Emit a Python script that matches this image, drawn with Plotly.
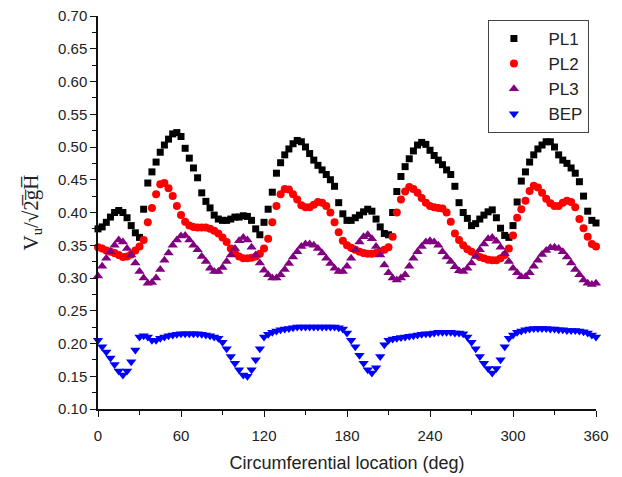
import plotly.graph_objects as go

deg = list(range(0, 361, 3))

pl1 = [0.375, 0.378, 0.385, 0.393, 0.400, 0.403, 0.400, 0.392, 0.380, 0.369,
       0.362, 0.405, 0.445, 0.462, 0.477, 0.492, 0.503, 0.512, 0.520, 0.522,
       0.516, 0.498, 0.483, 0.468, 0.453, 0.430, 0.417, 0.407, 0.396, 0.390,
       0.388, 0.388, 0.390, 0.393, 0.393, 0.395, 0.394, 0.388, 0.375, 0.366,
       0.385, 0.405, 0.431, 0.460, 0.476, 0.488, 0.497, 0.505, 0.510, 0.508,
       0.500, 0.490, 0.480, 0.472, 0.465, 0.458, 0.450, 0.440, 0.415, 0.398,
       0.388, 0.388, 0.392, 0.396, 0.401, 0.405, 0.402, 0.390, 0.378, 0.368,
       0.366, 0.400, 0.432, 0.455, 0.470, 0.482, 0.494, 0.503, 0.507, 0.504,
       0.495, 0.487, 0.480, 0.473, 0.465, 0.458, 0.440, 0.415, 0.400, 0.391,
       0.380, 0.383, 0.390, 0.396, 0.401, 0.404, 0.392, 0.376, 0.365, 0.362,
       0.380, 0.416, 0.448, 0.462, 0.477, 0.488, 0.497, 0.503, 0.508, 0.508,
       0.500, 0.488, 0.480, 0.475, 0.468, 0.460, 0.447, 0.425, 0.402, 0.388,
       0.384]

pl2 = [0.347, 0.345, 0.342, 0.340, 0.338, 0.335, 0.332, 0.333, 0.336, 0.342,
       0.348, 0.358, 0.385, 0.407, 0.428, 0.443, 0.445, 0.437, 0.425, 0.410,
       0.396, 0.386, 0.380, 0.378, 0.377, 0.377, 0.377, 0.375, 0.372, 0.368,
       0.362, 0.355, 0.345, 0.338, 0.333, 0.330, 0.330, 0.331, 0.333, 0.337,
       0.345, 0.360, 0.385, 0.410, 0.428, 0.436, 0.435, 0.428, 0.420, 0.411,
       0.408, 0.408, 0.412, 0.416, 0.415, 0.410, 0.400, 0.385, 0.370, 0.357,
       0.350, 0.346, 0.343, 0.340, 0.338, 0.337, 0.337, 0.338, 0.340, 0.343,
       0.347, 0.363, 0.400, 0.420, 0.432, 0.439, 0.436, 0.430, 0.422, 0.415,
       0.410, 0.408, 0.407, 0.406, 0.400, 0.386, 0.368, 0.358, 0.350, 0.344,
       0.340, 0.336, 0.332, 0.330, 0.328, 0.327, 0.327, 0.330, 0.335, 0.345,
       0.365, 0.392, 0.405, 0.418, 0.433, 0.441, 0.438, 0.430, 0.421, 0.414,
       0.410, 0.410, 0.415, 0.418, 0.416, 0.408, 0.390, 0.376, 0.363, 0.352,
       0.348]

pl3 = [0.303, 0.318, 0.330, 0.340, 0.350, 0.358, 0.355, 0.345, 0.335, 0.323,
       0.310, 0.300, 0.292, 0.293, 0.300, 0.313, 0.327, 0.338, 0.350, 0.358,
       0.364, 0.365, 0.358, 0.350, 0.343, 0.333, 0.325, 0.315, 0.310, 0.310,
       0.316, 0.325, 0.335, 0.345, 0.357, 0.362, 0.358, 0.347, 0.335, 0.323,
       0.312, 0.305, 0.300, 0.300, 0.305, 0.313, 0.322, 0.332, 0.340, 0.348,
       0.352, 0.352, 0.350, 0.345, 0.338, 0.330, 0.322, 0.315, 0.310, 0.310,
       0.318, 0.330, 0.343, 0.355, 0.363, 0.366, 0.360, 0.348, 0.335, 0.320,
       0.308, 0.300, 0.297, 0.300, 0.305, 0.318, 0.330, 0.340, 0.348, 0.355,
       0.357, 0.355, 0.350, 0.340, 0.332, 0.325, 0.317, 0.311, 0.310, 0.315,
       0.323, 0.333, 0.343, 0.352, 0.360, 0.362, 0.356, 0.347, 0.337, 0.325,
       0.315, 0.308, 0.302, 0.302, 0.308, 0.318, 0.327, 0.336, 0.342, 0.346,
       0.347, 0.345, 0.340, 0.332, 0.323, 0.313, 0.305, 0.297, 0.292, 0.290,
       0.292]

bep = [0.205, 0.195, 0.187, 0.178, 0.168, 0.158, 0.152, 0.158, 0.172, 0.190,
       0.210, 0.212, 0.210, 0.205, 0.205, 0.208, 0.210, 0.212, 0.213, 0.214,
       0.215, 0.215, 0.215, 0.215, 0.215, 0.214, 0.213, 0.212, 0.210, 0.208,
       0.202, 0.192, 0.180, 0.170, 0.160, 0.152, 0.150, 0.160, 0.175, 0.192,
       0.210, 0.214, 0.217, 0.219, 0.221, 0.222, 0.223, 0.224, 0.225, 0.225,
       0.225, 0.225, 0.225, 0.225, 0.225, 0.225, 0.225, 0.225, 0.224, 0.222,
       0.216, 0.205, 0.195, 0.182, 0.170, 0.160, 0.155, 0.163, 0.180, 0.198,
       0.205, 0.207, 0.208, 0.209, 0.210, 0.211, 0.212, 0.213, 0.214, 0.215,
       0.215, 0.216, 0.217, 0.217, 0.217, 0.217, 0.216, 0.216, 0.215, 0.210,
       0.202, 0.192, 0.180, 0.170, 0.162, 0.155, 0.162, 0.175, 0.195, 0.208,
       0.213, 0.217, 0.219, 0.221, 0.222, 0.223, 0.223, 0.223, 0.223, 0.222,
       0.222, 0.221, 0.221, 0.220, 0.220, 0.220, 0.219, 0.218, 0.216, 0.213,
       0.210]

x_ticks = [0, 60, 120, 180, 240, 300, 360]
y_ticks = [0.10, 0.15, 0.20, 0.25, 0.30, 0.35, 0.40, 0.45, 0.50, 0.55, 0.60, 0.65, 0.70]

series = [
    ("PL1", pl1, "square", "#000000", 7),
    ("PL2", pl2, "circle", "#ff0000", 8),
    ("PL3", pl3, "triangle-up", "#800080", 9),
    ("BEP", bep, "triangle-down", "#0000ff", 9),
]

fig = go.Figure()
for name, vals, sym, col, sz in series:
    fig.add_trace(go.Scatter(
        x=deg, y=vals, mode="markers", name="  " + name,
        marker=dict(symbol=sym, color=col, size=sz, line=dict(width=0)),
        cliponaxis=False,
    ))

font_main = "Liberation Sans, Arial, sans-serif"

fig.update_layout(
    width=622, height=477,
    margin=dict(l=98, r=26, t=16, b=68),
    paper_bgcolor="white", plot_bgcolor="white",
    font=dict(family=font_main, color="#222222", size=14),
    legend=dict(
        x=0.783, y=0.99, xanchor="left", yanchor="top",
        bordercolor="#444444", borderwidth=1, bgcolor="white",
        font=dict(size=17, family=font_main, color="#222222"),
        itemsizing="trace", tracegroupgap=0, itemwidth=40,
    ),
    xaxis=dict(
        range=[0, 360], tickvals=x_ticks, ticktext=[str(v) for v in x_ticks],
        showgrid=False, zeroline=False, showline=True, linecolor="#111111", linewidth=1.5,
        ticks="outside", ticklen=6, tickwidth=1.3, tickcolor="#111111",
        minor=dict(ticks="outside", ticklen=4, tickwidth=1.2, tickcolor="#111111", dtick=30, tick0=0),
        tickfont=dict(size=15), ticklabelstandoff=6, automargin=False,
        title=dict(text="Circumferential location (deg)", font=dict(size=18), standoff=14),
    ),
    yaxis=dict(
        range=[0.10, 0.70], tickvals=y_ticks, ticktext=["%.2f" % v for v in y_ticks],
        showgrid=False, zeroline=False, showline=True, linecolor="#111111", linewidth=1.5,
        ticks="outside", ticklen=6, tickwidth=1.3, tickcolor="#111111",
        minor=dict(ticks="outside", ticklen=4, tickwidth=1.2, tickcolor="#111111", dtick=0.025, tick0=0.1),
        tickfont=dict(size=15), automargin=False,
        title=dict(text="V<sub>u</sub>/√2\u0305g\u0305H\u0305",
                   font=dict(size=21, family="Liberation Serif, Times New Roman, serif"), standoff=14),
    ),
)

fig.write_html("out.html")
